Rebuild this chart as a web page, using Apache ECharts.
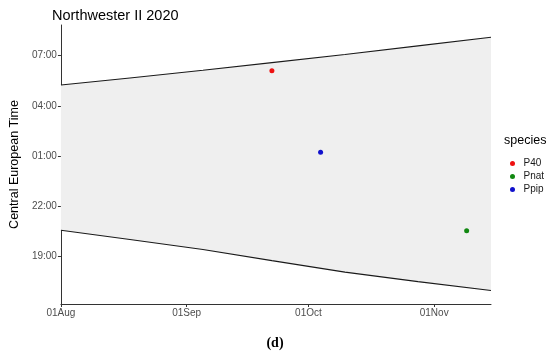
<!DOCTYPE html>
<html>
<head>
<meta charset="utf-8">
<script src="https://cdn.jsdelivr.net/npm/echarts@6/dist/echarts.min.js"></script>
<style>
  html, body { margin: 0; padding: 0; background: #fff; }
  #chart { width: 550px; height: 359px; }
</style>
</head>
<body>
<div id="chart"></div>
<script>
// 日出/日落 (night band)
var bandDates = ['2020-08-01', '2020-08-18', '2020-09-05', '2020-09-22', '2020-10-10', '2020-10-28', '2020-11-15'];
var sunrise   = ['05:15', '05:40', '06:08', '06:35', '07:04', '07:35', '08:06'];
var sunset    = ['20:35', '20:02', '19:26', '18:46', '18:05', '17:31', '16:59'];

// observations
var species  = ['P40', 'Pnat', 'Ppip'];
var obsDates = ['2020-09-22', '2020-11-09', '2020-10-04'];
var obsTimes = ['06:06', '20:33', '01:14'];
var colors   = ['#ee1111', '#118811', '#1111cc'];

// ticks
var xTickDates  = ['2020-08-01', '2020-09-01', '2020-10-01', '2020-11-01'];
var xTickLabels = ['01Aug', '01Sep', '01Oct', '01Nov'];
var yTickLabels = ['19:00', '22:00', '01:00', '04:00', '07:00'];

function dayOf(s) {
  return Math.round((Date.parse(s) - Date.parse('2020-08-01')) / 86400000);
}
// hours after noon, so the night runs continuously
function hrs(t) {
  var p = t.split(':');
  var v = +p[0] + (+p[1]) / 60 - 12;
  return v < 0 ? v + 24 : v;
}

var xTicks = xTickDates.map(dayOf);
var yTicks = yTickLabels.map(hrs);

var riseData = bandDates.map(function (d, i) { return [dayOf(d), hrs(sunrise[i])]; });
var setData  = bandDates.map(function (d, i) { return [dayOf(d), hrs(sunset[i])]; });

var series = [
  {
    // shaded night between sunset and sunrise
    type: 'custom', silent: true, z: 1,
    data: [0],
    renderItem: function (params, api) {
      var pts = [];
      riseData.forEach(function (p) { pts.push(api.coord(p)); });
      for (var i = setData.length - 1; i >= 0; i--) pts.push(api.coord(setData[i]));
      return { type: 'polygon', shape: { points: pts }, style: { fill: '#efefef' } };
    }
  },
  { type: 'line', data: riseData, symbol: 'none', z: 3,
    lineStyle: { color: '#1a1a1a', width: 1.1 } },
  { type: 'line', data: setData, symbol: 'none', z: 3,
    lineStyle: { color: '#1a1a1a', width: 1.1 } }
];
species.forEach(function (s, i) {
  series.push({
    name: s, type: 'scatter', symbol: 'circle', symbolSize: 5, z: 4,
    itemStyle: { color: colors[i], opacity: 1 },
    data: [[dayOf(obsDates[i]), hrs(obsTimes[i])]]
  });
});

var axisLineStyle = { color: '#333', width: 1 };
var option = {
  animation: false,
  backgroundColor: '#fff',
  textStyle: { fontFamily: 'Liberation Sans, Arial, sans-serif' },
  title: {
    text: 'Northwester II 2020', left: 47, top: 3,
    textStyle: { fontSize: 14.5, fontWeight: 'normal', color: '#000' }
  },
  grid: { left: 52, right: 59, top: 25, bottom: 55 },
  xAxis: {
    type: 'value', min: 0, max: dayOf('2020-11-15'),
    axisLine: { show: true, lineStyle: axisLineStyle },
    axisTick: { show: true, length: 3, customValues: xTicks, lineStyle: axisLineStyle },
    splitLine: { show: false },
    axisLabel: {
      customValues: xTicks, margin: 4, fontSize: 10, color: '#4d4d4d',
      formatter: function (v) { return xTickLabels[xTicks.indexOf(v)]; }
    }
  },
  yAxis: {
    type: 'value', min: 4.18, max: 20.83,
    name: 'Central European Time', nameLocation: 'middle', nameGap: 39,
    nameTextStyle: { fontSize: 12.5, color: '#000' },
    axisLine: { show: true, lineStyle: axisLineStyle },
    axisTick: { show: true, length: 3, customValues: yTicks, lineStyle: axisLineStyle },
    splitLine: { show: false },
    axisLabel: {
      customValues: yTicks, margin: 4, fontSize: 10, color: '#4d4d4d',
      formatter: function (v) { return yTickLabels[yTicks.indexOf(v)]; }
    }
  },
  legend: {
    data: species, orient: 'vertical', left: 505, top: 152,
    icon: 'circle', itemWidth: 12, itemHeight: 5, itemGap: 0,
    itemStyle: { opacity: 1 },
    textStyle: { fontSize: 10, color: '#1a1a1a', lineHeight: 13 }
  },
  graphic: [
    { type: 'text', left: 504, top: 134,
      style: { text: 'species', fontSize: 12.5, fill: '#000', fontFamily: 'Liberation Sans, Arial, sans-serif' } },
    { type: 'text', left: 'center', top: 336,
      style: { text: '(d)', fontSize: 14, fontWeight: 'bold', fill: '#000', fontFamily: 'Liberation Serif, DejaVu Serif, serif' } }
  ],
  series: series
};

var myChart = echarts.init(document.getElementById('chart'));
myChart.setOption(option);
</script>
</body>
</html>
